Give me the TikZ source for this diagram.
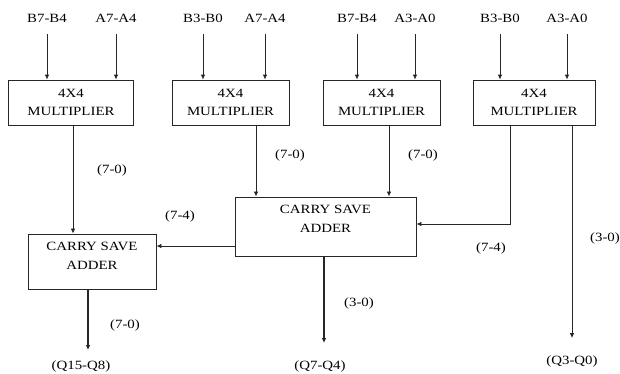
\documentclass[tikz,border=0pt]{standalone}
\usepackage{fontspec}
\setmainfont{Liberation Serif}[FakeStretch=1.18]
\usetikzlibrary{arrows.meta, positioning}

\begin{document}
\begin{tikzpicture}[x=1pt, y=-1pt,
    mult/.style={draw=black!85, line width=0.8pt, minimum height=45pt, align=center, inner sep=0pt, font=\fontsize{12.6}{18.5}\selectfont},
    csa/.style={draw=black!85, line width=0.9pt, align=center, inner sep=0pt, font=\fontsize{12.6}{18.5}\selectfont},
    inp/.style={inner sep=0pt, font=\fontsize{12.6}{15}\selectfont},
    bits/.style={inner sep=0pt, font=\fontsize{12.6}{15}\selectfont},
    outlbl/.style={inner sep=10pt, font=\fontsize{12.6}{15}\selectfont},
    arr/.style={-{Latex[length=5pt, width=4.5pt]}, line width=0.8pt, black!85}]
\useasboundingbox (0,0) rectangle (620,373);
% multipliers
\node[mult, minimum width=125pt] (m1) at (71,102.5) {4X4\\MULTIPLIER};
\node[mult, minimum width=117pt] (m2) at (230.5,102.5) {4X4\\MULTIPLIER};
\node[mult, minimum width=117pt] (m3) at (381.5,102.5) {4X4\\MULTIPLIER};
\node[mult, minimum width=122pt] (m4) at (534,102.5) {4X4\\MULTIPLIER};
% adders
\node[csa, minimum width=128pt, minimum height=55pt, text depth=11pt] (csa1) at (92,261.5) {CARRY SAVE\\ADDER};
\node[csa, minimum width=181pt, minimum height=59pt, text depth=15pt] (csa2) at (325.5,226.5) {CARRY SAVE\\ADDER};
% inputs
\node[inp] (b1) at (47,18) {B7-B4};
\node[inp] (a1) at (116,18) {A7-A4};
\node[inp] (b2) at (203,18) {B3-B0};
\node[inp] (a2) at (265,18) {A7-A4};
\node[inp] (b3) at (357,18) {B7-B4};
\node[inp] (a3) at (415,18) {A3-A0};
\node[inp] (b4) at (500,18) {B3-B0};
\node[inp] (a4) at (567,18) {A3-A0};
\draw[arr, shorten <=12pt] (b1.south) -- (b1 |- m1.north);
\draw[arr, shorten <=12pt] (a1.south) -- (a1 |- m1.north);
\draw[arr, shorten <=12pt] (b2.south) -- (b2 |- m2.north);
\draw[arr, shorten <=12pt] (a2.south) -- (a2 |- m2.north);
\draw[arr, shorten <=12pt] (b3.south) -- (b3 |- m3.north);
\draw[arr, shorten <=12pt] (a3.south) -- (a3 |- m3.north);
\draw[arr, shorten <=12pt] (b4.south) -- (b4 |- m4.north);
\draw[arr, shorten <=12pt] (a4.south) -- (a4 |- m4.north);
% outputs
\node[outlbl] (q158) at (81,366) {(Q15-Q8)};
\node[outlbl] (q74) at (320,366) {(Q7-Q4)};
\node[outlbl] (q30) at (572,361) {(Q3-Q0)};
% connections
\draw[arr] ([xshift=2pt]m1.south) -- ([xshift=2pt]m1.south |- csa1.north);
\draw[arr] ([xshift=25.5pt]m2.south) -- ([xshift=25.5pt]m2.south |- csa2.north);
\draw[arr] ([xshift=7.5pt]m3.south) -- ([xshift=7.5pt]m3.south |- csa2.north);
\draw[arr] ([xshift=-24pt]m4.south) |- ([yshift=2.5pt]csa2.east);
\draw[arr] ([yshift=-19.5pt]csa2.west) -- ([yshift=-19.5pt]csa2.west -| csa1.east);
\draw[arr, shorten >=7pt] ([xshift=38pt]m4.south) -- ([xshift=38pt]m4.south |- q30.north);
\draw[arr, line width=1.1pt] ([xshift=-4pt]csa1.south) -- ([xshift=-4pt]csa1.south |- q158.north);
\draw[arr, line width=1.1pt, shorten >=7pt] ([xshift=-1.5pt]csa2.south) -- ([xshift=-1.5pt]csa2.south |- q74.north);
% bit ranges
\node[bits] (r1) at (112,170) {(7-0)};
\node[bits] (r2) at (290,155) {(7-0)};
\node[bits] (r3) at (423,155) {(7-0)};
\node[bits] (r4) at (180,216) {(7-4)};
\node[bits] (r5) at (491,248) {(7-4)};
\node[bits] (r6) at (605,238) {(3-0)};
\node[bits] (r7) at (359,303) {(3-0)};
\node[bits] (r8) at (125,325) {(7-0)};
\end{tikzpicture}
\end{document}
